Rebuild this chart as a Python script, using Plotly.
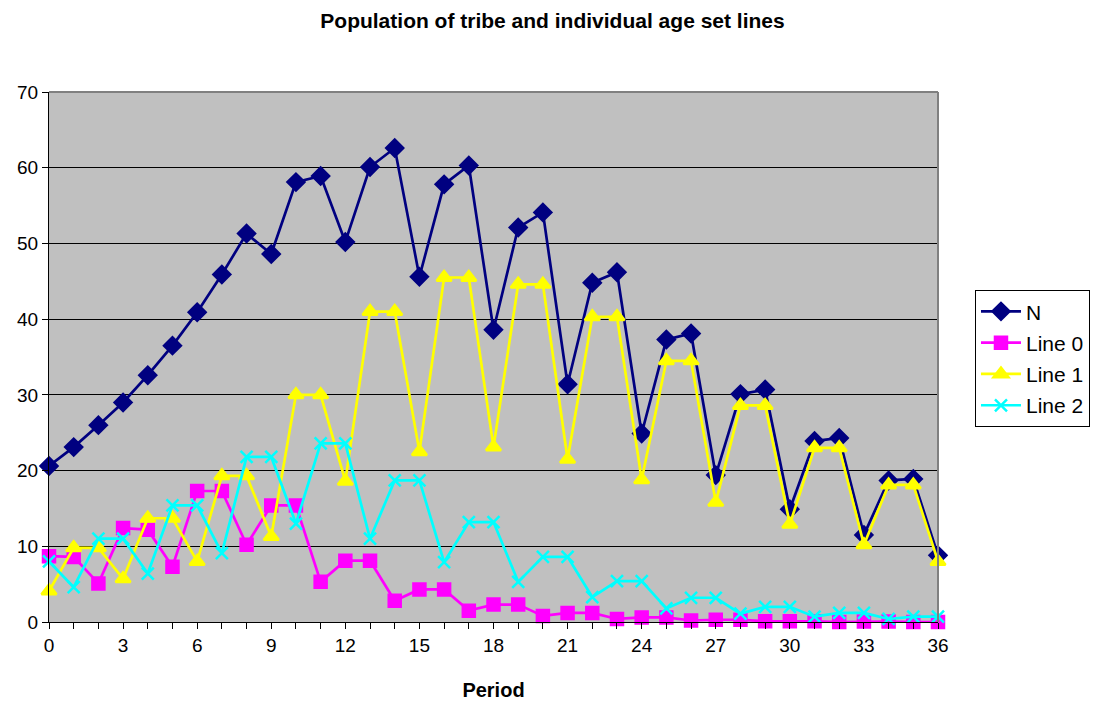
import plotly.graph_objects as go

periods = list(range(37))

n_total = [20.6, 23.1, 26.0, 29.0, 32.6, 36.5, 40.9, 45.9, 51.3, 48.6,
           58.1, 58.9, 50.2, 60.1, 62.6, 45.6, 57.8, 60.3, 38.6, 52.1,
           54.1, 31.4, 44.8, 46.2, 24.9, 37.3, 38.1, 19.4, 30.1, 30.7,
           14.9, 23.9, 24.3, 11.5, 18.7, 18.9, 8.8]

line0 = [8.7, 8.6, 5.1, 12.4, 12.2, 7.3, 17.3, 17.3, 10.2, 15.4,
         15.4, 5.3, 8.1, 8.1, 2.8, 4.3, 4.3, 1.5, 2.3, 2.3,
         0.8, 1.2, 1.2, 0.4, 0.6, 0.6, 0.2, 0.3, 0.3, 0.1,
         0.1, 0.1, 0.0, 0.05, 0.05, 0.0, 0.0]

line1 = [4.1, 9.8, 9.8, 5.7, 13.7, 13.7, 8.0, 19.3, 19.3, 11.3,
         30.0, 30.0, 18.6, 41.0, 41.0, 22.5, 45.5, 45.5, 23.1, 44.6,
         44.6, 21.5, 40.3, 40.3, 18.8, 34.5, 34.5, 15.8, 28.6, 28.6,
         12.9, 23.0, 23.0, 10.2, 18.1, 18.1, 8.0]

line2 = [8.0, 4.6, 11.0, 11.0, 6.4, 15.4, 15.4, 9.1, 21.8, 21.8,
         13.0, 23.6, 23.6, 11.0, 18.7, 18.7, 7.9, 13.2, 13.2, 5.3,
         8.6, 8.6, 3.3, 5.4, 5.4, 1.8, 3.2, 3.2, 1.1, 2.0,
         2.0, 0.7, 1.2, 1.2, 0.4, 0.7, 0.7]

tick_text = [str(p) if p % 3 == 0 else "" for p in periods]

series = [
    ("N", n_total, "#000080", "diamond", 13),
    ("Line 0", line0, "#FF00FF", "square", 12),
    ("Line 1", line1, "#FFFF00", "triangle-up", 13),
    ("Line 2", line2, "#00FFFF", "x-thin-open", 12),
]

fig = go.Figure()
for name, vals, color, symbol, size in series:
    fig.add_trace(go.Scatter(
        x=periods, y=vals, name=name, mode="lines+markers",
        legendgroup=name,
        line=dict(color=color, width=2.7),
        marker=dict(symbol=symbol, size=size, color=color,
                    line=dict(color=color, width=2.5)),
        cliponaxis=False,
    ))

fig.update_layout(
    width=1105, height=702,
    margin=dict(l=49, r=167, t=92, b=80, autoexpand=False),
    paper_bgcolor="white",
    plot_bgcolor="#C0C0C0",
    font=dict(family="Liberation Sans, Arial, sans-serif", size=19, color="black"),
    title=dict(text="<b>Population of tribe and individual age set lines</b>",
               x=0.5, xanchor="center", y=0.97, yanchor="middle",
               font=dict(size=21)),
    showlegend=True,
    legend=dict(x=1.0416, y=0.626, xanchor="left", yanchor="top",
                bgcolor="white", bordercolor="black", borderwidth=1,
                font=dict(size=21), tracegroupgap=1, itemwidth=40),
    xaxis=dict(
        range=[0, 36], tickvals=periods, ticktext=tick_text,
        ticks="outside", ticklen=6, tickcolor="black", tickwidth=1,
        showline=True, linecolor="black", linewidth=1,
        showgrid=False, zeroline=False, automargin=False,
        title=dict(text="<b>Period</b>", font=dict(size=20), standoff=28),
    ),
    yaxis=dict(
        range=[0, 70], dtick=10,
        ticks="outside", ticklen=6, tickcolor="black", tickwidth=1,
        showline=True, linecolor="black", linewidth=1,
        showgrid=True, gridcolor="black", gridwidth=1,
        zeroline=False, automargin=False,
    ),
)

# grey frame around the top and right of the plot area
fig.add_shape(type="line", xref="paper", yref="paper", x0=0, x1=1, y0=1, y1=1,
              line=dict(color="#808080", width=2))
fig.add_shape(type="line", xref="paper", yref="paper", x0=1, x1=1, y0=0, y1=1,
              line=dict(color="#808080", width=2))

fig.write_html("out.html")
